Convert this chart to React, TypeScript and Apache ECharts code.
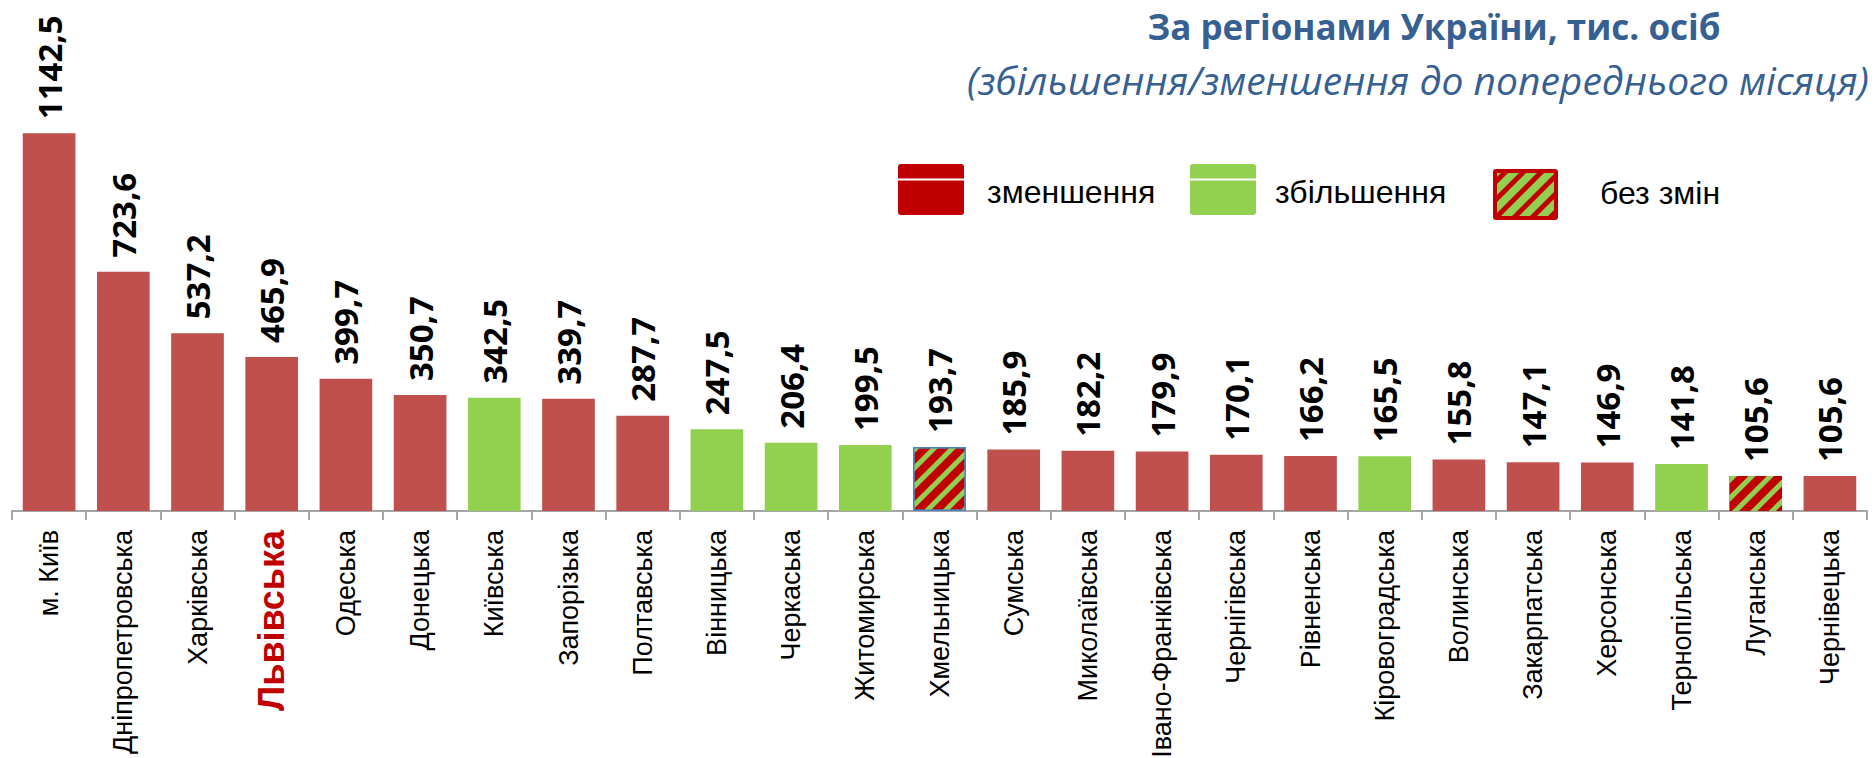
import React, { useEffect, useRef } from "react";
import * as echarts from "echarts";

const categories = [
  "м. Київ", "Дніпропетровська", "Харківська", "Львівська", "Одеська", "Донецька",
  "Київська", "Запорізька", "Полтавська", "Вінницька", "Черкаська", "Житомирська",
  "Хмельницька", "Сумська", "Миколаївська", "Івано-Франківська", "Чернігівська",
  "Рівненська", "Кіровоградська", "Волинська", "Закарпатська", "Херсонська",
  "Тернопільська", "Луганська", "Чернівецька",
];
const values = [
  1142.5, 723.6, 537.2, 465.9, 399.7, 350.7, 342.5, 339.7, 287.7, 247.5, 206.4, 199.5,
  193.7, 185.9, 182.2, 179.9, 170.1, 166.2, 165.5, 155.8, 147.1, 146.9, 141.8, 105.6, 105.6,
];
// dec = зменшення, inc = збільшення, same = без змін
const statuses = [
  "dec", "dec", "dec", "dec", "dec", "dec", "inc", "dec", "dec", "inc", "inc", "inc",
  "same", "dec", "dec", "dec", "dec", "dec", "inc", "dec", "dec", "dec", "inc", "same", "dec",
];
const highlighted = "Львівська";
const legendLabels = ["зменшення", "збільшення", "без змін"];
const titleText = "За регіонами України, тис. осіб";
const subtitleText = "(збільшення/зменшення до попереднього місяця)";

const RED = "#c0504d";
const GREEN = "#92d050";
const DARKRED = "#c00000";
const TITLE = "#376092";

type Pt = [number, number];
function clip(poly: Pt[], a: number, b: number, c: number): Pt[] {
  // keep a*x + b*y <= c
  const out: Pt[] = [];
  for (let i = 0; i < poly.length; i++) {
    const p = poly[i];
    const q = poly[(i + 1) % poly.length];
    const fp = a * p[0] + b * p[1] - c;
    const fq = a * q[0] + b * q[1] - c;
    if (fp <= 0) out.push(p);
    if ((fp < 0 && fq > 0) || (fp > 0 && fq < 0)) {
      const t = fp / (fp - fq);
      out.push([p[0] + t * (q[0] - p[0]), p[1] + t * (q[1] - p[1])]);
    }
  }
  return out;
}

function hatchStripes(x0: number, y0: number, x1: number, y1: number, period: number, width: number, color: string) {
  const square: Pt[] = [[x0, y0], [x1, y0], [x1, y1], [x0, y1]];
  const els: any[] = [];
  const uMin = x0 + y0;
  const uMax = x1 + y1;
  for (let u = uMin + 4; u < uMax; u += period) {
    let poly = clip(square, 1, 1, u + width);
    poly = clip(poly, -1, -1, -u);
    if (poly.length >= 3) {
      els.push({ type: "polygon", shape: { points: poly }, style: { fill: color }, silent: true });
    }
  }
  return els;
}

export default function App() {
  const ref = useRef<HTMLDivElement>(null);
  useEffect(() => {
    if (!ref.current) return;
    const chart = echarts.init(ref.current, undefined, { renderer: "svg" });

    const barData = values.map((v, i) => {
      const s = statuses[i];
      if (s === "inc") return { value: v, itemStyle: { color: GREEN } };
      if (s === "same")
        return {
          value: v,
          itemStyle: {
            color: DARKRED,
            borderColor: categories[i] === "Хмельницька" ? "#4f81bd" : undefined,
            borderWidth: categories[i] === "Хмельницька" ? 1.5 : 0,
            decal: {
              symbol: "rect",
              symbolSize: 1,
              color: GREEN,
              dashArrayX: [1, 0],
              dashArrayY: [5, 8],
              rotation: -Math.PI / 4,
            },
          },
        };
      return { value: v, itemStyle: { color: RED } };
    });

    const xData = categories.map((c) =>
      c === highlighted
        ? { value: c, textStyle: { color: DARKRED, fontWeight: "bold", fontSize: 36 } }
        : c
    );

    const legendEls: any[] = [];
    const boxY = 164, boxW = 66, boxH = 51;
    // red box
    legendEls.push({ type: "rect", shape: { x: 898, y: boxY, width: boxW, height: boxH, r: 3 }, style: { fill: DARKRED } });
    legendEls.push({ type: "line", shape: { x1: 898, y1: 179.5, x2: 964, y2: 179.5 }, style: { stroke: "#fff", lineWidth: 2 } });
    legendEls.push({ type: "text", x: 987, y: 192, style: { text: legendLabels[0], font: "32px 'Liberation Sans'", fill: "#000", verticalAlign: "middle" } });
    // green box
    legendEls.push({ type: "rect", shape: { x: 1190, y: boxY, width: boxW, height: boxH, r: 3 }, style: { fill: GREEN } });
    legendEls.push({ type: "line", shape: { x1: 1190, y1: 179.5, x2: 1256, y2: 179.5 }, style: { stroke: "#fff", lineWidth: 2 } });
    legendEls.push({ type: "text", x: 1275, y: 192, style: { text: legendLabels[1], font: "32px 'Liberation Sans'", fill: "#000", verticalAlign: "middle" } });
    // hatched box
    const hx = 1493, hy = 169, hw = 65, hh = 51, bw = 4;
    legendEls.push({ type: "rect", shape: { x: hx, y: hy, width: hw, height: hh, r: 3 }, style: { fill: DARKRED } });
    legendEls.push({ type: "rect", shape: { x: hx + bw, y: hy + bw, width: hw - 2 * bw, height: hh - 2 * bw }, style: { fill: GREEN } });
    hatchStripes(hx + bw, hy + bw, hx + hw - bw, hy + hh - bw, 18, 7, DARKRED).forEach((e) => legendEls.push(e));
    legendEls.push({ type: "text", x: 1600, y: 193, style: { text: legendLabels[2], font: "32px 'Liberation Sans'", fill: "#000", verticalAlign: "middle" } });

    // titles
    legendEls.push({ type: "text", x: 1434, y: 26, style: { text: titleText, font: "bold 35px 'Open Sans'", fill: TITLE, align: "center", verticalAlign: "middle" } });
    legendEls.push({ type: "text", x: 1418, y: 79, style: { text: subtitleText, font: "italic 39px 'Open Sans'", fill: TITLE, align: "center", verticalAlign: "middle" } });

    chart.setOption({
      animation: false,
      grid: { left: 12, right: 9, top: 48, bottom: 247, containLabel: false, outerBoundsMode: "none" },
      xAxis: {
        type: "category",
        data: xData,
        axisLine: { lineStyle: { color: "#a6a6a6", width: 2 } },
        axisTick: { show: true, length: 9, interval: 0, lineStyle: { color: "#a6a6a6", width: 2 } },
        axisLabel: {
          interval: 0,
          rotate: 90,
          margin: 19,
          fontSize: 27,
          fontFamily: "'Liberation Sans', Arial, sans-serif",
          color: "#000",
        },
      },
      yAxis: { type: "value", min: 0, max: 1400, show: false, splitLine: { show: false } },
      series: [
        {
          type: "bar",
          data: barData,
          barCategoryGap: "29%",
          label: {
            show: true,
            position: "top",
            rotate: 90,
            align: "left",
            verticalAlign: "middle",
            distance: 14,
            fontSize: 33,
            fontWeight: "bold",
            fontFamily: "'Open Sans', sans-serif",
            color: "#000",
            formatter: (p: any) => Number(p.value).toFixed(1).replace(".", ","),
          },
        },
      ],
      graphic: legendEls,
    });
    return () => chart.dispose();
  }, []);
  return <div ref={ref} style={{ position: "fixed", left: 0, top: 0, width: 1876, height: 758, background: "#fff" }} />;
}
